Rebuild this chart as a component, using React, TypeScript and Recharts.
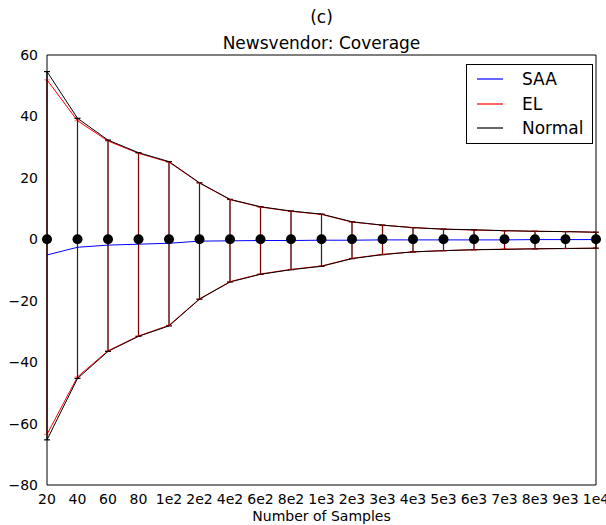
import React from 'react';
import { ComposedChart, Line, XAxis, YAxis, ErrorBar, Legend } from 'recharts';

const sampleSizes = ['20', '40', '60', '80', '1e2', '2e2', '4e2', '6e2', '8e2', '1e3', '2e3', '3e3', '4e3', '5e3', '6e3', '7e3', '8e3', '9e3', '1e4'];
const center = [0, 0, 0, 0, 0, 0, 0, 0, 0, 0, 0, 0, 0, 0, 0, 0, 0, 0, 0];
const saa = [-5.1, -2.6, -1.9, -1.6, -1.3, -0.6, -0.5, -0.4, -0.4, -0.3, -0.3, -0.2, -0.2, -0.2, -0.2, -0.2, -0.1, -0.1, -0.1];
const elHigh = [51.9, 38.6, 32.0, 28.0, 25.1, 18.3, 12.9, 10.5, 9.1, 8.1, 5.6, 4.6, 3.8, 3.3, 3.0, 2.8, 2.6, 2.5, 2.3];
const elLow = [-63.5, -44.8, -36.3, -31.5, -28.0, -19.4, -13.8, -11.3, -9.8, -8.7, -6.2, -4.9, -4.1, -3.7, -3.4, -3.2, -3.1, -3.0, -2.9];
const normalHigh = [54.6, 39.4, 32.3, 28.2, 25.3, 18.4, 13.0, 10.6, 9.2, 8.2, 5.7, 4.6, 3.8, 3.3, 3.1, 2.8, 2.6, 2.5, 2.3];
const normalLow = [-65.3, -45.3, -36.5, -31.6, -28.2, -19.5, -13.9, -11.4, -9.9, -8.8, -6.3, -5.0, -4.1, -3.7, -3.4, -3.3, -3.1, -3.0, -2.9];
const yTicks = [-80, -60, -40, -20, 0, 20, 40, 60];

const series = [
  { name: 'SAA', color: '#0000ff' },
  { name: 'EL', color: '#ff0000' },
  { name: 'Normal', color: '#000000' },
];

const data = sampleSizes.map((n, i) => ({
  n,
  center: center[i],
  saa: saa[i],
  elHigh: elHigh[i],
  elLow: elLow[i],
  normalHigh: normalHigh[i],
  normalLow: normalLow[i],
  errEL: [center[i] - elLow[i], elHigh[i] - center[i]],
  errNormal: [center[i] - normalLow[i], normalHigh[i] - center[i]],
}));

const font = '"DejaVu Sans", sans-serif';
const fmt = (v: number) => String(v).replace('-', '\u2212');

const LegendBox = () => (
  <div style={{ border: '1px solid #000', background: '#fff', width: 127, height: 80, fontFamily: font, fontSize: 17, boxSizing: 'border-box', paddingTop: 2 }}>
    {series.map(s => (
      <div key={s.name} style={{ display: 'flex', alignItems: 'center', height: 24.5 }}>
        <svg width={26} height={4} style={{ marginLeft: 10, marginRight: 19 }}>
          <line x1={0} y1={2} x2={26} y2={2} stroke={s.color} strokeWidth={1.2} />
        </svg>
        <span style={{ color: '#000' }}>{s.name}</span>
      </div>
    ))}
  </div>
);

export default function App() {
  return (
    <div style={{ position: 'absolute', left: 0, top: 0, width: 606, height: 525, background: '#fff', fontFamily: font }}>
      <div style={{ position: 'absolute', left: 47, width: 549, top: 7, textAlign: 'center', fontSize: 17, lineHeight: '20px' }}>(c)</div>
      <div style={{ position: 'absolute', left: 47, width: 549, top: 33, textAlign: 'center', fontSize: 17, lineHeight: '20px' }}>Newsvendor: Coverage</div>
      <ComposedChart width={606} height={525} data={data} margin={{ top: 55, right: 10, bottom: 0, left: 0 }} style={{ fontFamily: font }}>
        <XAxis
          xAxisId="x"
          dataKey="n"
          interval={0}
          tickLine={false}
          axisLine={{ stroke: '#000' }}
          tick={{ fill: '#000', fontSize: 14 }}
          tickMargin={3}
          height={40}
          padding={{ left: 0, right: 0 }}
          label={{ value: 'Number of Samples', position: 'insideBottom', offset: 4, fill: '#000', fontSize: 14 }}
        />
        <XAxis xAxisId="xIn" dataKey="n" interval={0} mirror tick={false} tickLine={{ stroke: '#000' }} tickSize={5} axisLine={false} />
        <XAxis xAxisId="xTop" dataKey="n" orientation="top" interval={0} mirror tick={false} tickLine={{ stroke: '#000' }} tickSize={5} axisLine={{ stroke: '#000' }} />
        <YAxis
          yAxisId="y"
          type="number"
          domain={[-80, 60]}
          ticks={yTicks}
          interval={0}
          width={47}
          tickLine={false}
          axisLine={{ stroke: '#000' }}
          tick={{ fill: '#000', fontSize: 14 }}
          tickMargin={3}
          tickFormatter={fmt}
        />
        <YAxis yAxisId="yIn" type="number" domain={[-80, 60]} ticks={yTicks} interval={0} mirror tick={false} tickLine={{ stroke: '#000' }} tickSize={5} axisLine={false} />
        <YAxis yAxisId="yRight" orientation="right" type="number" domain={[-80, 60]} ticks={yTicks} interval={0} mirror tick={false} tickLine={{ stroke: '#000' }} tickSize={5} axisLine={{ stroke: '#000' }} />
        <Line xAxisId="x" yAxisId="y" dataKey="saa" name="SAA" stroke="#0000ff" strokeWidth={1} dot={false} isAnimationActive={false} />
        <Line xAxisId="x" yAxisId="y" dataKey="elHigh" name="EL" stroke="#ff0000" strokeWidth={1} dot={false} isAnimationActive={false} />
        <Line xAxisId="x" yAxisId="y" dataKey="elLow" stroke="#ff0000" strokeWidth={1} dot={false} isAnimationActive={false} legendType="none" />
        <Line xAxisId="x" yAxisId="y" dataKey="normalHigh" name="Normal" stroke="#000" strokeWidth={1} dot={false} isAnimationActive={false} />
        <Line xAxisId="x" yAxisId="y" dataKey="normalLow" stroke="#000" strokeWidth={1} dot={false} isAnimationActive={false} legendType="none" />
        <Line
          xAxisId="x"
          yAxisId="y"
          dataKey="center"
          stroke="none"
          dot={{ r: 5, fill: '#000', stroke: '#000', strokeWidth: 0 }}
          isAnimationActive={false}
          legendType="none"
        >
          <ErrorBar dataKey="errNormal" direction="y" width={3} stroke="#000" strokeWidth={1.2} isAnimationActive={false} />
          <ErrorBar dataKey="errEL" direction="y" width={3} stroke="#ff0000" strokeWidth={1} strokeOpacity={0.5} isAnimationActive={false} />
        </Line>
        <Legend
          layout="vertical"
          align="center"
          verticalAlign="middle"
          wrapperStyle={{ left: 466, top: 64, width: 127 }}
          content={() => <LegendBox />}
        />
      </ComposedChart>
    </div>
  );
}
